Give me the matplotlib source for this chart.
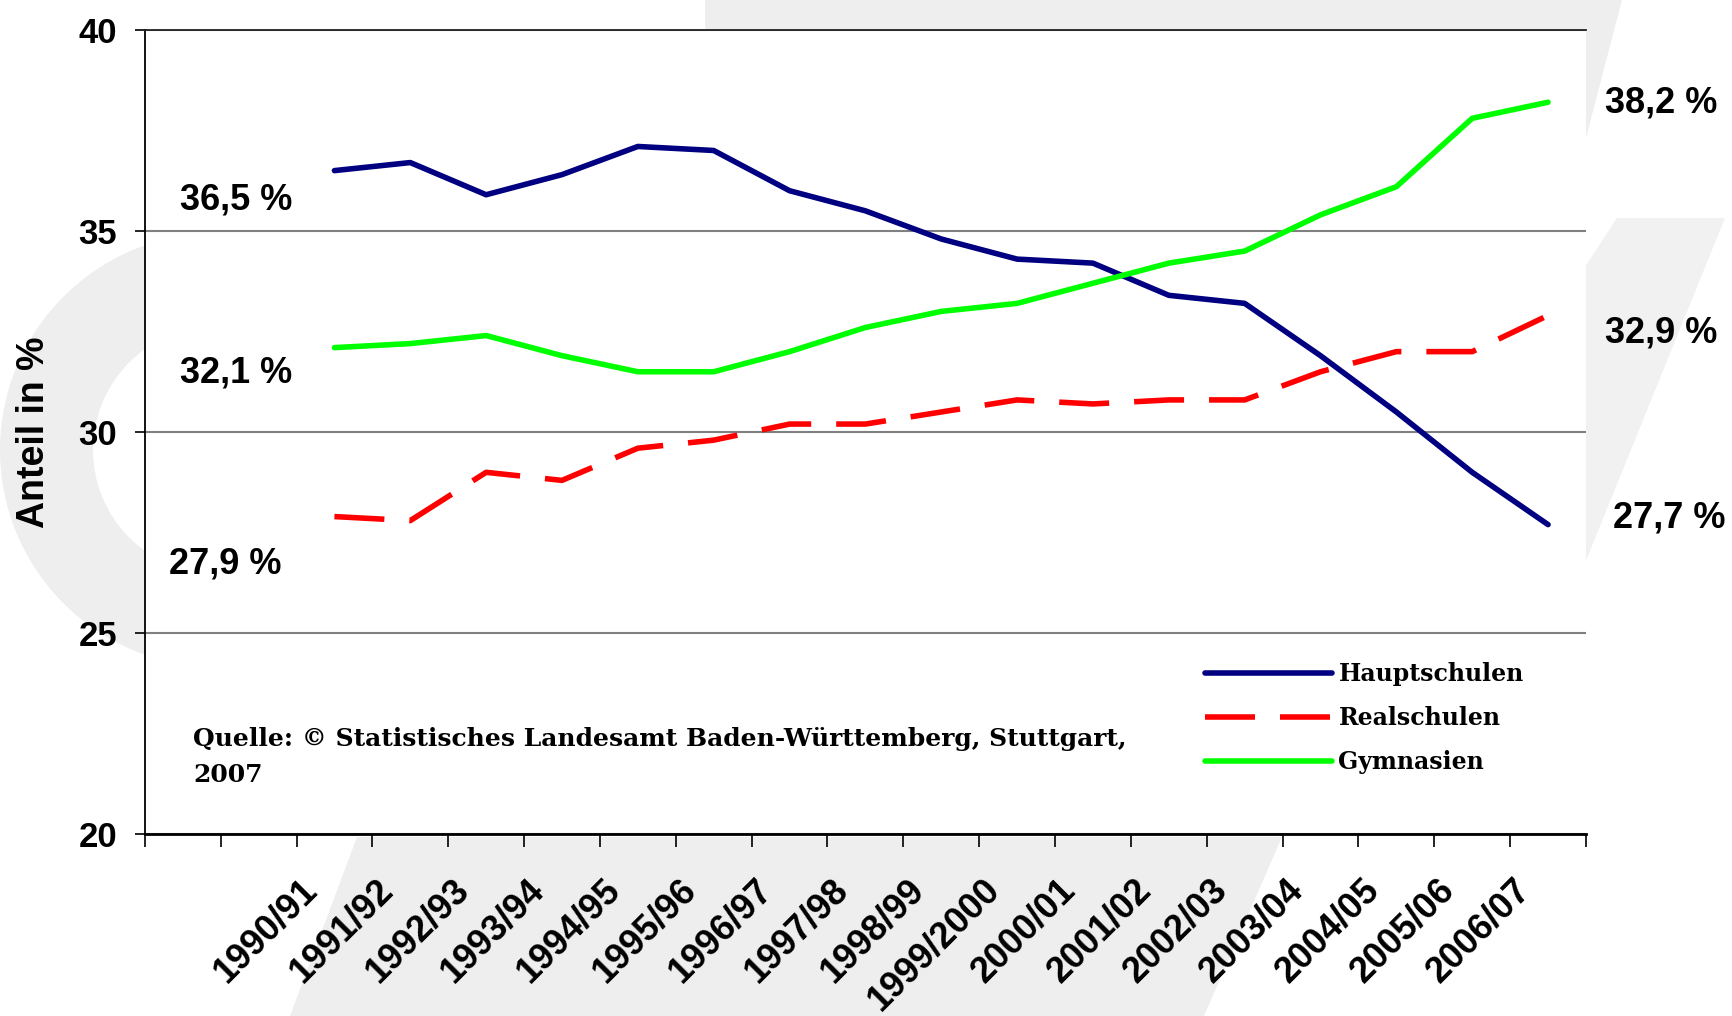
import numpy as np
import matplotlib
matplotlib.use("Agg")
import matplotlib.pyplot as plt
import matplotlib.transforms as mtransforms
from matplotlib.patches import Polygon, Wedge

plt.rcParams['font.family'] = ['Liberation Sans', 'DejaVu Sans']

# ---------------------- Daten ----------------------
jahre = ['1990/91', '1991/92', '1992/93', '1993/94', '1994/95', '1995/96',
         '1996/97', '1997/98', '1998/99', '1999/2000', '2000/01', '2001/02',
         '2002/03', '2003/04', '2004/05', '2005/06', '2006/07']
haupt = [36.5, 36.7, 35.9, 36.4, 37.1, 37.0, 36.0, 35.5, 34.8, 34.3, 34.2,
         33.4, 33.2, 31.9, 30.5, 29.0, 27.7]
real = [27.9, 27.8, 29.0, 28.8, 29.6, 29.8, 30.2, 30.2, 30.5, 30.8, 30.7,
        30.8, 30.8, 31.5, 32.0, 32.0, 32.9]
gym = [32.1, 32.2, 32.4, 31.9, 31.5, 31.5, 32.0, 32.6, 33.0, 33.2, 33.7,
       34.2, 34.5, 35.4, 36.1, 37.8, 38.2]
quelle = "Quelle: © Statistisches Landesamt Baden-Württemberg, Stuttgart,\n2007"

W, H = 1733, 1016
fig = plt.figure(figsize=(W / 100, H / 100), dpi=100)

# ---------------------- Hintergrund (Wasserzeichen) ----------------------
bg = fig.add_axes([0, 0, 1, 1], zorder=-1)
bg.set_xlim(0, W)
bg.set_ylim(H, 0)
bg.axis('off')
grau = '#eeeeee'
bg.add_patch(Wedge((217, 450), 217, 0, 360, width=93, color=grau, lw=0))
bg.add_patch(Polygon([(705, 0), (1622, 0), (1575, 180), (705, 180)], color=grau, lw=0))
bg.add_patch(Polygon([(1617, 218), (1725, 218), (1570, 600), (1570, 290)], color='#f1f1f1', lw=0))
bg.add_patch(Polygon([(357, 837), (1282, 837), (1204, 1016), (290, 1016)], color=grau, lw=0))

# ---------------------- Diagramm ----------------------
ax = fig.add_axes([144.8 / W, 1 - 834.4 / H, (1586 - 144.8) / W, (834.4 - 29.8) / H])
ax.set_facecolor('white')
x = np.arange(len(jahre))

ax.plot(x, haupt, color='#000080', lw=4, label='Hauptschulen', solid_capstyle='round')
ax.plot(x, real, color='#ff0000', lw=4, dashes=(9, 4.5), label='Realschulen')
ax.plot(x, gym, color='#00ff00', lw=4, label='Gymnasien', solid_capstyle='round')

ax.set_xlim(-2.5, len(jahre) - 0.5)
ax.set_ylim(20, 40)
ax.set_yticks([20, 25, 30, 35, 40])
ax.yaxis.grid(True, color='#808080', lw=1.5)
ax.set_axisbelow(True)

ax.set_xticks(x)
ax.set_xticklabels(jahre, rotation=45, ha='right', va='top', rotation_mode='anchor')
ax.set_xticks(np.arange(-2.5, len(jahre)), minor=True)
ax.tick_params(axis='x', which='major', length=0, pad=27)
ax.tick_params(axis='x', which='minor', length=9.5, width=1.2, direction='out')
ax.tick_params(axis='y', length=7, width=1.2, direction='out', pad=13)
for lab in ax.get_xticklabels():
    lab.set_fontsize(26)
    lab.set_fontweight('bold')
    lab.set_transform(lab.get_transform() + mtransforms.ScaledTranslation(-0.35, 0, fig.dpi_scale_trans))
for lab in ax.get_yticklabels():
    lab.set_fontsize(25)
    lab.set_fontweight('bold')

ax.spines['right'].set_visible(False)
ax.spines['top'].set_color('#222222')
ax.spines['top'].set_linewidth(1.3)
ax.spines['left'].set_linewidth(1.3)
ax.spines['bottom'].set_linewidth(2)

ax.set_ylabel('Anteil in %', fontsize=27, fontweight='bold', va='center')
ax.yaxis.set_label_coords(-0.077, 0.5)

ax.legend(loc='center left', bbox_to_anchor=(1205 / W, 1 - 718 / H), bbox_transform=fig.transFigure,
          frameon=False, handlelength=5.4, handletextpad=0.25, labelspacing=0.85, borderpad=0,
          borderaxespad=0, prop={'family': 'DejaVu Serif', 'weight': 'bold', 'size': 17})

fig.text(193 / W, 1 - 757 / H, quelle, fontsize=18, fontweight='bold',
         family='DejaVu Serif', va='center', ha='left', linespacing=1.6)

# Anfangs- und Endwerte
def wert(v):
    return f"{v:.1f} %".replace('.', ',')

for v, px, py in [(haupt[0], 180, 200), (gym[0], 180, 373), (real[0], 169, 564),
                  (gym[-1], 1605, 103), (real[-1], 1605, 333), (haupt[-1], 1613, 518)]:
    fig.text(px / W, 1 - py / H, wert(v), fontsize=26, fontweight='bold', va='center', ha='left')

fig.savefig('out.png', dpi=100)
